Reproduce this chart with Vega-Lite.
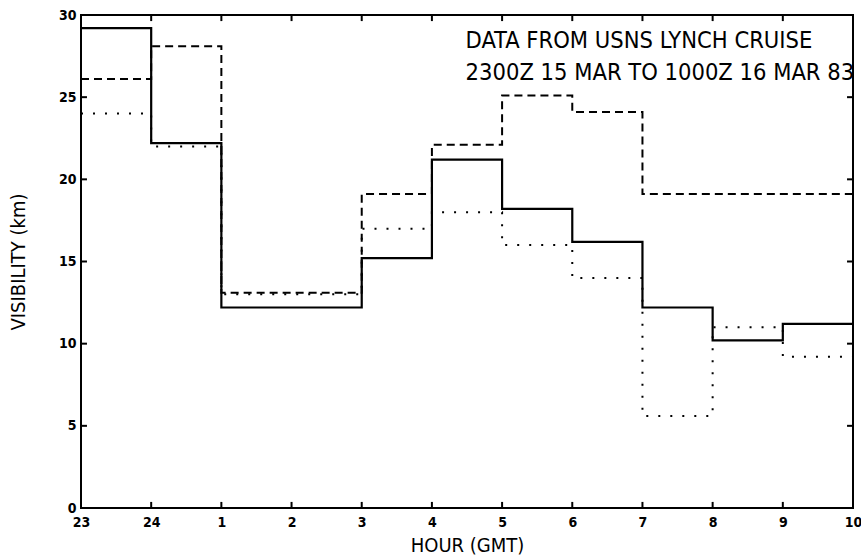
{
  "$schema": "https://vega.github.io/schema/vega-lite/v6.json",
  "autosize": "none",
  "padding": {"left": 81, "top": 15, "right": 8, "bottom": 52},
  "width": 772,
  "height": 493,
  "background": "white",
  "config": {
    "view": {"stroke": "black", "strokeWidth": 2},
    "axis": {
      "grid": false, "domain": false, "ticks": false,
      "labelFont": "DejaVu Sans Condensed, Liberation Sans Narrow, DejaVu Sans", "labelFontWeight": "bold", "labelFontSize": 14, "labelColor": "black",
      "titleFont": "DejaVu Sans Condensed, Liberation Sans Narrow, DejaVu Sans", "titleFontWeight": "normal", "titleFontSize": 20, "titleColor": "black"
    }
  },
  "datasets": {
    "vis": [
      {"series": "solid", "h": 0, "v": 29.2}, {"series": "solid", "h": 1, "v": 22.2}, {"series": "solid", "h": 2, "v": 12.2}, {"series": "solid", "h": 3, "v": 12.2},
      {"series": "solid", "h": 4, "v": 15.2}, {"series": "solid", "h": 5, "v": 21.2}, {"series": "solid", "h": 6, "v": 18.2}, {"series": "solid", "h": 7, "v": 16.2},
      {"series": "solid", "h": 8, "v": 12.2}, {"series": "solid", "h": 9, "v": 10.2}, {"series": "solid", "h": 10, "v": 11.2}, {"series": "solid", "h": 11, "v": 11.2},
      {"series": "dashed", "h": 0, "v": 26.1}, {"series": "dashed", "h": 1, "v": 28.1}, {"series": "dashed", "h": 2, "v": 13.1}, {"series": "dashed", "h": 3, "v": 13.1},
      {"series": "dashed", "h": 4, "v": 19.1}, {"series": "dashed", "h": 5, "v": 22.1}, {"series": "dashed", "h": 6, "v": 25.1}, {"series": "dashed", "h": 7, "v": 24.1},
      {"series": "dashed", "h": 8, "v": 19.1}, {"series": "dashed", "h": 9, "v": 19.1}, {"series": "dashed", "h": 10, "v": 19.1}, {"series": "dashed", "h": 11, "v": 19.1},
      {"series": "dotted", "h": 0, "v": 24.0}, {"series": "dotted", "h": 1, "v": 22.0}, {"series": "dotted", "h": 2, "v": 13.0}, {"series": "dotted", "h": 3, "v": 13.0},
      {"series": "dotted", "h": 4, "v": 17.0}, {"series": "dotted", "h": 5, "v": 18.0}, {"series": "dotted", "h": 6, "v": 16.0}, {"series": "dotted", "h": 7, "v": 14.0},
      {"series": "dotted", "h": 8, "v": 5.6}, {"series": "dotted", "h": 9, "v": 11.0}, {"series": "dotted", "h": 10, "v": 9.2}, {"series": "dotted", "h": 11, "v": 9.2}
    ],
    "yticks": [{"t": 5}, {"t": 10}, {"t": 15}, {"t": 20}, {"t": 25}],
    "notes": [
      {"h": 5.48, "v": 28.4, "label": "DATA FROM USNS LYNCH CRUISE"},
      {"h": 5.48, "v": 26.5, "label": "2300Z 15 MAR TO 1000Z 16 MAR 83"}
    ]
  },
  "layer": [
    {
      "data": {"name": "vis"},
      "transform": [{"filter": "datum.series == 'solid'"}],
      "mark": {"type": "line", "interpolate": "step-after", "color": "black", "strokeWidth": 2.2},
      "encoding": {
        "x": {"field": "h", "type": "quantitative", "scale": {"domain": [0, 11], "nice": false, "zero": false},
          "axis": {"orient": "bottom", "values": [0,1,2,3,4,5,6,7,8,9,10,11], "labelExpr": "datum.value == 0 ? '23' : datum.value == 1 ? '24' : '' + (datum.value - 1)", "title": "HOUR (GMT)", "labelPadding": 7, "titlePadding": 6, "labelFlush": false}},
        "y": {"field": "v", "type": "quantitative", "scale": {"domain": [0, 30], "nice": false},
          "axis": {"orient": "left", "values": [0,5,10,15,20,25,30], "title": "VISIBILITY (km)", "labelPadding": 5, "titlePadding": 30}}
      }
    },
    {
      "data": {"name": "vis"},
      "transform": [{"filter": "datum.series == 'dashed'"}],
      "mark": {"type": "line", "interpolate": "step-after", "color": "black", "strokeWidth": 2, "strokeDash": [8, 5]},
      "encoding": {
        "x": {"field": "h", "type": "quantitative"},
        "y": {"field": "v", "type": "quantitative"}
      }
    },
    {
      "data": {"name": "vis"},
      "transform": [{"filter": "datum.series == 'dotted'"}],
      "mark": {"type": "line", "interpolate": "step-after", "color": "black", "strokeWidth": 2, "strokeDash": [2, 10], "strokeCap": "butt"},
      "encoding": {
        "x": {"field": "h", "type": "quantitative"},
        "y": {"field": "v", "type": "quantitative"}
      }
    },
    {
      "data": {"name": "vis"},
      "transform": [{"filter": "datum.series == 'solid' && datum.h > 0 && datum.h < 11"}],
      "mark": {"type": "rule", "color": "black", "strokeWidth": 2},
      "encoding": {
        "x": {"field": "h", "type": "quantitative"},
        "y": {"datum": 0},
        "y2": {"datum": 0.37}
      }
    },
    {
      "data": {"name": "vis"},
      "transform": [{"filter": "datum.series == 'solid' && datum.h > 0 && datum.h < 11"}],
      "mark": {"type": "rule", "color": "black", "strokeWidth": 2},
      "encoding": {
        "x": {"field": "h", "type": "quantitative"},
        "y": {"datum": 30},
        "y2": {"datum": 29.63}
      }
    },
    {
      "data": {"name": "yticks"},
      "mark": {"type": "rule", "color": "black", "strokeWidth": 2},
      "encoding": {
        "y": {"field": "t", "type": "quantitative"},
        "x": {"datum": 0},
        "x2": {"datum": 0.085}
      }
    },
    {
      "data": {"name": "yticks"},
      "mark": {"type": "rule", "color": "black", "strokeWidth": 2},
      "encoding": {
        "y": {"field": "t", "type": "quantitative"},
        "x": {"datum": 11},
        "x2": {"datum": 10.915}
      }
    },
    {
      "data": {"name": "notes"},
      "mark": {"type": "text", "align": "left", "baseline": "middle", "fontSize": 23.5, "font": "DejaVu Sans Condensed, Liberation Sans Narrow, DejaVu Sans", "color": "black"},
      "encoding": {
        "x": {"field": "h", "type": "quantitative"},
        "y": {"field": "v", "type": "quantitative"},
        "text": {"field": "label"}
      }
    }
  ]
}
